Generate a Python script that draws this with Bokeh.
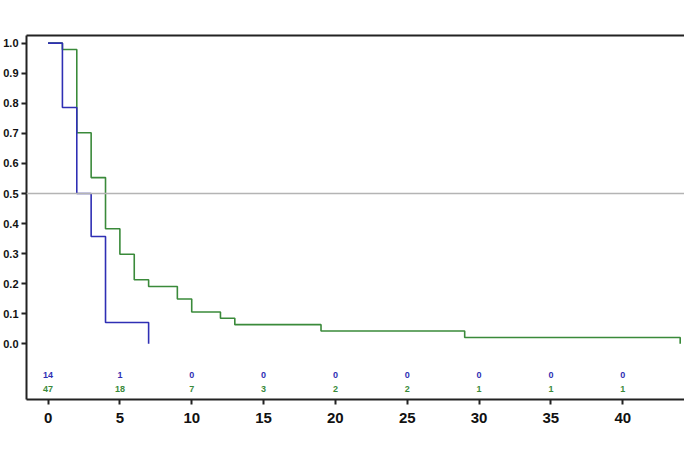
from bokeh.plotting import figure
from bokeh.models import Span, LinearAxis, FixedTicker, Range1d
from bokeh.embed import file_html
from bokeh.resources import INLINE
from bokeh.core.properties import value

# Kaplan-Meier step data
blue_times = [0, 1, 2, 3, 4, 7]
blue_surv = [1.0, 0.786, 0.5, 0.357, 0.071, 0.0]
green_times = [0, 1, 2, 3, 4, 5, 6, 7, 9, 10, 12, 13, 19, 29, 44]
green_surv = [1.0, 0.979, 0.702, 0.553, 0.383, 0.298, 0.213, 0.191, 0.149,
              0.106, 0.085, 0.064, 0.043, 0.021, 0.0]

# numbers at risk
risk_times = [0, 5, 10, 15, 20, 25, 30, 35, 40]
blue_risk = ["14", "1", "0", "0", "0", "0", "0", "0", "0"]
green_risk = ["47", "18", "7", "3", "2", "2", "1", "1", "1"]

x_ticks = [0, 5, 10, 15, 20, 25, 30, 35, 40, 45]
y_ticks = [0.0, 0.1, 0.2, 0.3, 0.4, 0.5, 0.6, 0.7, 0.8, 0.9, 1.0]

BLUE = "#2f2fb4"
GREEN = "#3a8a3a"
FONT = "Liberation Sans"

p = figure(width=684, height=450, output_backend="svg", toolbar_location=None,
           x_range=Range1d(-1.5, 44.3), y_range=Range1d(-0.185, 1.0255),
           min_border_top=35, min_border_bottom=51, min_border_right=0,
           min_border_left=4)
p.outline_line_color = None
p.grid.visible = False
p.background_fill_color = "white"

# axes
p.xaxis.ticker = FixedTicker(ticks=x_ticks)
p.yaxis.ticker = FixedTicker(ticks=y_ticks)
p.yaxis.major_label_overrides = {t: f"{t:.1f}" for t in y_ticks}
for ax in (p.xaxis[0], p.yaxis[0]):
    ax.axis_line_width = 2
    ax.axis_line_color = "#222222"
    ax.major_tick_line_width = 2
    ax.major_tick_line_color = "#222222"
    ax.major_tick_out = 5
    ax.major_tick_in = 0
    ax.minor_tick_line_color = None
    ax.major_label_text_font = FONT
    ax.major_label_text_font_style = "bold"
    ax.major_label_text_color = "#111111"
p.xaxis.major_label_text_font_size = "15px"
p.xaxis.major_label_standoff = 8
p.yaxis.major_label_text_font_size = "11px"
p.yaxis.major_label_standoff = 3

top = LinearAxis(ticker=FixedTicker(ticks=[]), major_label_text_font_size="0px",
                 axis_line_width=2, axis_line_color="#222222",
                 major_tick_line_color=None, minor_tick_line_color=None)
p.add_layout(top, "above")

# reference line at 0.5
p.add_layout(Span(location=0.5, dimension="width", line_color="#b4b4b4",
                  line_width=1.5))

p.step(green_times, green_surv, mode="after", line_color=GREEN, line_width=1.6)
p.step(blue_times, blue_surv, mode="after", line_color=BLUE, line_width=1.6)

p.text(x=risk_times, y=[-0.105] * len(risk_times), text=blue_risk,
       text_color=BLUE, text_font=value(FONT), text_font_style="bold",
       text_font_size="9px", text_align="center", text_baseline="middle")
p.text(x=risk_times, y=[-0.151] * len(risk_times), text=green_risk,
       text_color=GREEN, text_font=value(FONT), text_font_style="bold",
       text_font_size="9px", text_align="center", text_baseline="middle")

open("out.html", "w").write(file_html(p, INLINE))
